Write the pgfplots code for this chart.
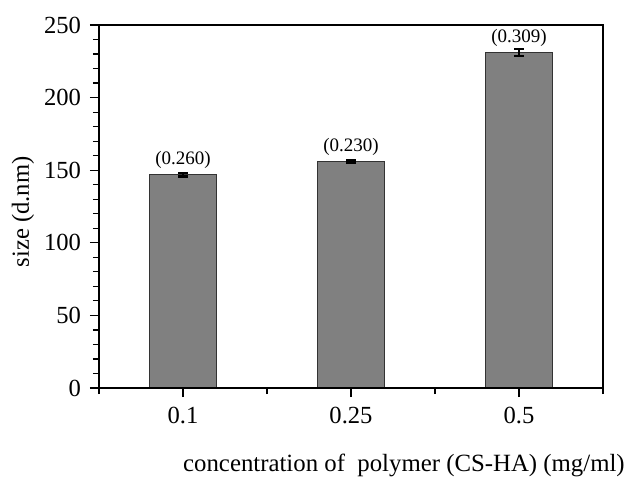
\documentclass[border=0pt]{standalone}
\usepackage{fontspec}
\setmainfont{Liberation Serif}
\usepackage{pgfplots}
\pgfplotsset{compat=1.18}
\definecolor{barfill}{RGB}{128,128,128}
\begin{document}
\begin{tikzpicture}
\useasboundingbox (-49.5pt,-44.5pt) rectangle (263pt,194pt);
\begin{axis}[
  at={(0,0)}, anchor=south west,
  scale only axis, width=252pt, height=181.5pt,
  xmin=-0.5, xmax=2.5, ymin=0, ymax=250,
  xtick={0,1,2},
  xticklabels={0.1,0.25,0.5},
  minor xtick={-0.5,0.5,1.5,2.5},
  ytick={0,50,...,250},
  minor ytick={10,20,...,240},
  tick align=outside, xtick pos=bottom, ytick pos=left,
  major tick length=4.5pt, minor tick length=3pt,
  tick style={black, line width=0.6pt},
  axis line style={black, line width=0.7pt},
  tick label style={font=\fontsize{12.3}{14}\selectfont},
  yticklabel style={xshift=-1pt},
  xticklabel style={yshift=-1.5pt},
  /pgf/number format/assume math mode=true,
  ylabel={size (d.nm)},
  ylabel style={font=\fontsize{12.3}{14}\selectfont, at={(axis description cs:-0.151,0.485)}, anchor=center},
  xlabel={concentration of\ \ polymer (CS-HA) (mg/ml)},
  xlabel style={font=\fontsize{12.4}{14}\selectfont, at={(axis description cs:0.605,-0.212)}, anchor=center},
  clip=false, axis on top,
]
\addplot[ybar, bar width=0.4, fill=barfill, draw=black!80, line width=0.5pt,
  point meta=explicit symbolic,
  nodes near coords,
  every node near coord/.append style={font=\fontsize{9.5}{11}\selectfont, anchor=center, yshift=7.5pt, black},
  error bars/.cd, y dir=both, y explicit,
  error bar style={black, line width=1.3pt},
  error mark options={rotate=90, mark size=2.3pt, line width=1.3pt, black}]
  table[x=x, y=y, y error=e, meta=lab] {
x y e lab
0 147 1.2 (0.260)
1 156 0.8 (0.230)
2 231 2.4 (0.309)
};
\end{axis}
\end{tikzpicture}
\end{document}
